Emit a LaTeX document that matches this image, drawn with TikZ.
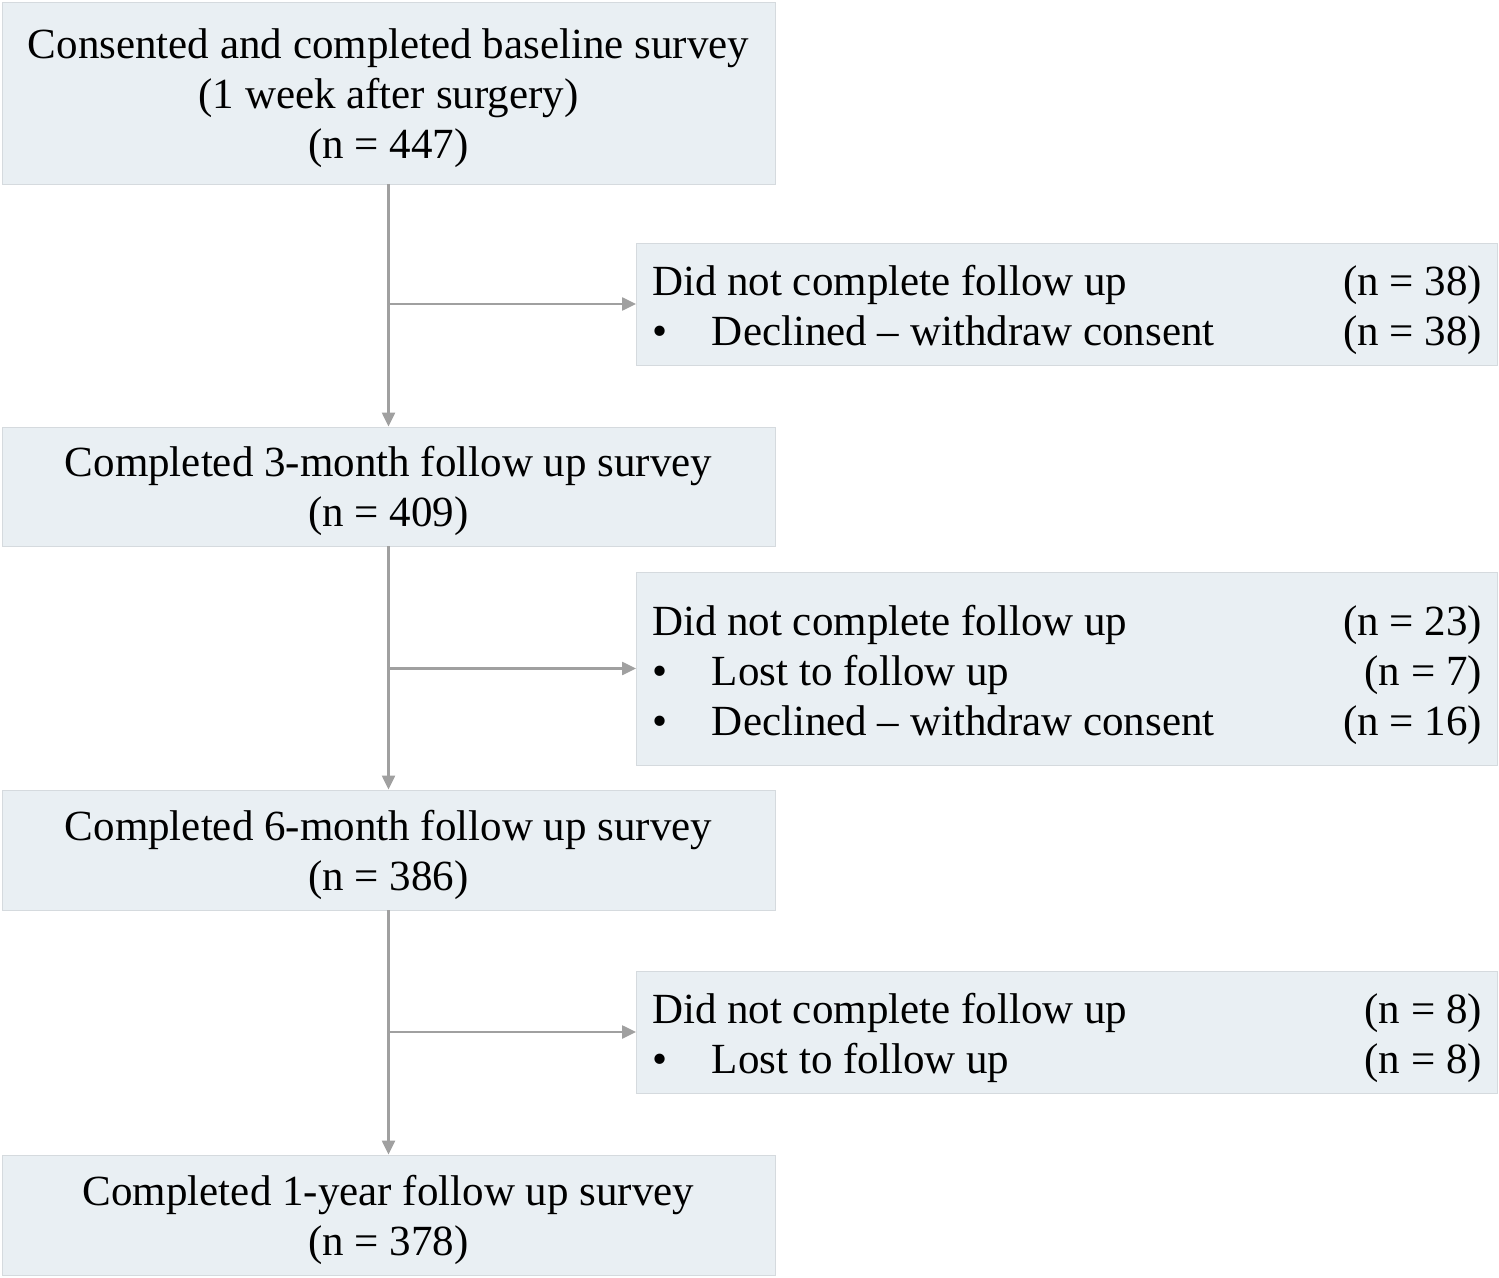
\documentclass[tikz,border=0pt]{standalone}
\usepackage{fontspec}
\setmainfont{Liberation Serif}
\usetikzlibrary{arrows.meta}
\definecolor{boxfill}{HTML}{E9EFF3}
\definecolor{boxline}{HTML}{D5DADE}
\definecolor{flowgray}{HTML}{A0A0A0}
\newcommand{\dropline}[2]{\makebox[\hsize][l]{#1\hfill(n = #2)}}
\newcommand{\dropitem}[2]{\dropline{\makebox[30pt][l]{\textbullet}#1}{#2}}

\begin{document}
\begin{tikzpicture}[x=0.5pt,y=-0.5pt,
  stagebox/.style={draw=boxline,fill=boxfill,text width=370pt,inner xsep=8.25pt,inner ysep=0pt,align=flush center,
    font=\fontsize{21.5}{25}\selectfont,execute at begin node={\rule{0pt}{20pt}}},
  dropbox/.style={draw=boxline,fill=boxfill,text width=415pt,inner xsep=7.75pt,xshift=0.5pt,inner ysep=0pt,align=flush left,
    font=\fontsize{21.5}{25}\selectfont,execute at begin node={\rule{0pt}{21.5pt}}},
  flow/.style={draw=flowgray,line width=1.1pt,-{Triangle[length=7pt,width=6.5pt]}}]
  \useasboundingbox (0,0) rectangle (1499,1278);

  \node [stagebox,minimum height=91pt] (s0) at (388.5,93)
    {Consented and completed baseline survey\\(1 week after surgery)\\(n = 447)};
  \node [stagebox,minimum height=59.5pt] (s1) at (388.5,486.5)
    {Completed 3-month follow up survey\\(n = 409)};
  \node [stagebox,minimum height=60pt] (s2) at (388.5,850)
    {Completed 6-month follow up survey\\(n = 386)};
  \node [stagebox,minimum height=60pt] (s3) at (388.5,1215)
    {Completed 1-year follow up survey\\(n = 378)};

  \node [dropbox,minimum height=61pt] (d1) at (1066,304)
    {\dropline{Did not complete follow up}{38}\\
     \dropitem{Declined -- withdraw consent}{38}};
  \node [dropbox,minimum height=96.5pt] (d2) at (1066,668.5)
    {\dropline{Did not complete follow up}{23}\\
     \dropitem{Lost to follow up}{7}\\
     \dropitem{Declined -- withdraw consent}{16}};
  \node [dropbox,minimum height=61pt] (d3) at (1066,1032)
    {\dropline{Did not complete follow up}{8}\\
     \dropitem{Lost to follow up}{8}};

  \foreach \a/\b/\d in {s0/s1/d1,s1/s2/d2,s2/s3/d3}
    {\draw [flow] (\a) -- (\b);
     \draw [flow] (\a.south |- \d) -- (\d);}

\end{tikzpicture}
\end{document}
